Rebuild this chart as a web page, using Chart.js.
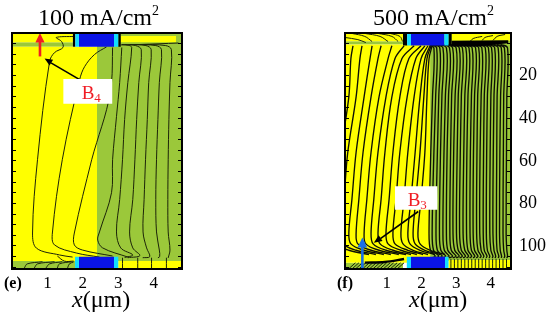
<!doctype html>
<html>

<head>
	<title>Contours</title>
	<script src="https://cdn.jsdelivr.net/npm/chart.js@4.4.1"></script>
	<style>
	* { margin: 0; padding: 0; }
	body { width: 550px; height: 316px; background: #fff; overflow: hidden; position: relative; }
	canvas { position: absolute; top: 0; filter: blur(0.3px); }
	#canvas_e { left: 0; }
	#canvas_f { left: 330px; }
	</style>
</head>

<body>
	<canvas id="canvas_e" width="200" height="316"></canvas>
	<canvas id="canvas_f" width="220" height="316"></canvas>

<script type="text/javascript">
	// ===== data, x in um, y as on the right hand axis =====
	var xTickValues = [1, 2, 3, 4];
	var yTickValues = [20, 40, 60, 80, 100];

	// blocks are [x0, x1, y0, y1]
	var eGreen = [[2.4,4.8,0,107],[0,1.72,4.4,6.4],[0,1.79,107,110.8]];
	var eYellow = [[0,2.4,6.4,107],[0,1.72,0,4.4],[3.07,4.63,1.4,4.3],[3.0,4.8,107,110.8]];
	var eBlack = [[1.72,1.79,0,6.4],[3.0,3.07,0,6.4]];
	var eCyan = [[1.79,1.89,0,6.4],[2.88,3.0,0,6.4],[1.78,1.89,105,110.8],[2.88,3.0,105,110.8]];
	var eBlue = [[1.89,2.88,0,6.4],[1.89,2.88,105,110.8]];

	var fGreen = [[2.25,4.58,0,107],[-0.2,1.47,3.9,5.4],[-0.2,1.47,107.9,110.8]];
	var fYellow = [[-0.2,2.25,5.4,107.9],[-0.2,1.47,0,3.9],[2.87,4.58,0,3.6],[2.78,4.58,106.6,110.8]];
	var fBlack = [[1.47,1.59,0,5.9],[2.78,2.87,0,5.9]];
	var fCyan = [[1.59,1.7,0,5.9],[2.66,2.78,0,5.9],[1.58,1.7,105,110.8],[2.68,2.78,105,110.8]];
	var fBlue = [[1.7,2.66,0,5.9],[1.7,2.68,105,110.8]];
	var fWedge = [[2.87,3.6],[4.5,3.4],[4.5,4.8],[3.6,6.3],[2.87,6.3],[2.87,3.6]];

	// contours of panel e, [x, y] pairs
	var eContours = [
		[[1.76,1.6],[1.25,2.1],[1.40,4],[1.44,6.8],[1.2,9.2],[1.06,13.4],[0.72,59.5],[0.58,93.9],[0.69,101],[1.34,104.2],[1.71,105.2]],
		[[2.67,6.5],[2.33,10.1],[2.05,15.8],[1.91,21.9],[1.42,59.5],[1.14,93.9],[1.20,99.5],[1.82,103.3],[2.47,105.2]],
		[[2.84,6.8],[2.81,23.3],[2.67,36],[2.39,51.5],[2.25,59.5],[1.76,93.9],[1.76,99.5],[1.99,101.9],[2.84,104.7]],
		[[3.10,6.8],[3.04,23.3],[2.95,39.3],[2.84,59.5],[2.81,75],[2.47,93.4],[2.42,97.2],[2.56,100.9],[3.27,105.2]],
		[[3.1,5.4],[3.3,5.8],[3.38,6.8],[3.27,23.3],[3.18,40.6],[3.12,59.5],[3.04,78.2],[2.95,93.4],[3.07,100.9],[3.41,104.2],[3.18,105.4]],
		[[3.18,5.4],[3.49,5.9],[3.65,7.8],[3.58,23.3],[3.52,40.6],[3.47,59.5],[3.41,78.2],[3.32,93.4],[3.41,100.9],[3.61,104.5],[3.27,105.5]],
		[[3.32,5.4],[3.78,5.9],[3.93,7.8],[3.86,23.3],[3.82,40.6],[3.77,59.5],[3.73,78.2],[3.70,93.4],[3.80,100.9],[3.89,105],[3.69,105.5]],
		[[3.47,5.4],[4.06,5.9],[4.22,7.8],[4.16,23.3],[4.12,40.6],[4.08,59.5],[4.06,78.2],[4.08,93.4],[4.16,101.9],[4.17,105],[4.12,105.5]],
		[[3.60,5.4],[4.34,5.9],[4.50,7.8],[4.46,23.3],[4.43,40.6],[4.41,59.5],[4.40,78.2],[4.41,93.4],[4.46,101.9],[4.41,105.6]],
		[[3.07,5.6],[3.6,5.4],[4.7,4.7]],
		[[1.28,104.7],[1.48,107.1],[1.74,107.1]],
		[[0.35,110.3],[0.43,108.4],[0.86,107.4]],
		[[0.63,110.3],[0.72,108.4],[1.2,107.4]],
		[[0.96,110.3],[1.06,108.4],[1.42,107.4]],
		[[1.28,110.3],[1.34,108.4],[1.68,107.4]],
		[[1.57,110.3],[1.62,108.4],[1.74,107.5]],
		[[3.12,105.5],[3.12,110.8]],
		[[3.55,105.5],[3.55,110.8]],
		[[3.94,105.5],[3.94,110.8]],
		[[4.36,105.5],[4.36,110.8]]
	];

	// contours of panel f, one row per line, x read at the y levels
	var fYellowLevels = [6, 12, 30, 56, 78, 94, 99, 102, 104];
	var fYellowRows = [
		[0.03,-0.03,-0.09,-0.32,-0.43,-0.52,-0.46,-0.09,0.49],
		[0.29,0.23,0.12,-0.12,-0.23,-0.32,-0.26,0.12,0.69],
		[0.58,0.52,0.35,0.12,0,-0.09,-0.03,0.35,0.92],
		[0.84,0.75,0.55,0.32,0.20,0.12,0.17,0.55,1.12],
		[1.15,1.04,0.78,0.55,0.43,0.35,0.40,0.78,1.35],
		[1.50,1.24,0.98,0.75,0.63,0.55,0.61,0.98,1.56],
		[1.79,1.44,1.15,0.95,0.84,0.75,0.81,1.18,1.70],
		[1.99,1.64,1.38,1.18,1.07,0.98,1.04,1.41,1.87],
		[2.10,1.84,1.59,1.38,1.27,1.18,1.24,1.61,2.05],
		[2.19,1.99,1.79,1.61,1.50,1.41,1.47,1.76,2.19],
		[2.25,2.10,1.96,1.82,1.70,1.61,1.67,1.96,2.39],
		[2.28,2.16,2.07,1.96,1.84,1.76,1.82,2.10,2.54],
		[2.31,2.22,2.16,2.10,1.99,1.90,1.96,2.25,2.68]
	];
	var fGreenLevels = [5.3, 7, 30, 56, 94, 102, 104.8, 105.6];
	var fGreenRows = [
		[2.20,2.36,2.32,2.27,2.22,2.26,2.40,2.30],
		[2.25,2.44,2.41,2.36,2.31,2.35,2.50,2.40],
		[2.30,2.53,2.50,2.46,2.42,2.46,2.60,2.50],
		[2.35,2.62,2.59,2.55,2.52,2.56,2.70,2.60],
		[2.42,2.72,2.69,2.65,2.62,2.66,2.80,2.70],
		[2.50,2.81,2.78,2.74,2.72,2.76,2.90,2.80],
		[2.58,2.90,2.87,2.84,2.82,2.86,3.00,2.90],
		[2.68,3.00,2.97,2.93,2.91,2.96,3.09,3.00],
		[2.78,3.09,3.06,3.03,3.01,3.06,3.18,3.10],
		[2.88,3.18,3.15,3.12,3.10,3.15,3.27,3.20],
		[2.98,3.28,3.25,3.22,3.20,3.25,3.36,3.30],
		[3.08,3.37,3.34,3.31,3.30,3.34,3.45,3.39],
		[3.18,3.46,3.44,3.41,3.40,3.44,3.54,3.49],
		[3.28,3.56,3.53,3.50,3.49,3.53,3.63,3.58],
		[3.38,3.65,3.62,3.60,3.59,3.63,3.72,3.68],
		[3.48,3.74,3.72,3.69,3.68,3.72,3.80,3.77],
		[3.58,3.84,3.81,3.79,3.78,3.81,3.89,3.86],
		[3.68,3.93,3.90,3.88,3.87,3.90,3.97,3.95],
		[3.78,4.02,4.00,3.98,3.97,4.00,4.06,4.04],
		[3.88,4.11,4.09,4.07,4.06,4.09,4.14,4.12],
		[3.98,4.21,4.18,4.17,4.16,4.18,4.23,4.21],
		[4.08,4.30,4.28,4.26,4.25,4.27,4.31,4.30],
		[4.18,4.39,4.37,4.36,4.35,4.37,4.40,4.38],
		[4.28,4.48,4.46,4.45,4.44,4.46,4.48,4.46]
	];
	var fStripContours = [
		[[0,0.2],[0.37,1.6],[0.58,4]],
		[[0.37,0.2],[0.81,1.6],[1.04,4]],
		[[0.75,0.2],[1.15,1.6],[1.33,4]],
		[[1.1,0.2],[1.38,1.6],[1.46,4]],
		[[-0.2,2.1],[0.17,3.1],[0.4,4.5]],
		[[3.4,4],[3.49,2.6],[3.75,1.6]],
		[[3.75,3.5],[3.83,2.1],[4.06,1.2]],
		[[4.06,3.5],[4.18,1.6],[4.41,0.7]]
	];
	var fBottomRightStubs = [2.85,2.95,3.05,3.15,3.25,3.35,3.45,3.55,3.65,3.75,3.85,3.95,4.05,4.15,4.25,4.35,4.45];
	var fBottomLeftStubs = [-0.1,0,0.1,0.2,0.3,0.4,0.5,0.6,0.7,0.8,0.9,1.0,1.1,1.2,1.3];
	var fBottomBand = [[0.37,107.8],[0.95,107.5],[1.5,106.1]];

	// arrows, shaft then head
	var eRedShaft = [[0.79,11],[0.79,4]];
	var eRedHead = [[0.79,0],[0.92,4.5],[0.66,4.5],[0.79,0]];
	var ePointerShaft = [[1.91,21.9],[1.1,14]];
	var ePointerHead = [[0.92,12],[1.06,15.3],[1.16,12.6],[0.92,12]];
	var eLabelBox = [[1.45,21.6],[2.83,21.6],[2.83,33.2],[1.45,33.2],[1.45,21.6]];

	var fBlueShaft = [[0.3,110.8],[0.3,100]];
	var fBlueHead = [[0.3,96],[0.44,100.7],[0.16,100.7],[0.3,96]];
	var fPointerShaft = [[1.91,83.8],[0.82,96.5]];
	var fPointerHead = [[0.63,98.5],[0.88,97.7],[0.77,95],[0.63,98.5]];
	var fLabelBox = [[1.24,72],[2.46,72],[2.46,83],[1.24,83],[1.24,72]];

	// ===== helpers =====
	var Y_MAX = 110.8;
	var SERIF = '"Liberation Serif"';

	function toPoints(pairs) {
		return pairs.map(function(p) { return { x: p[0], y: p[1] }; });
	}

	function rowToPoints(row, levels) {
		return row.map(function(x, i) { return { x: x, y: levels[i] }; });
	}

	function shape(pairs, color) {
		return {
			data: toPoints(pairs), showLine: true, fill: 'shape', backgroundColor: color,
			borderWidth: 0, pointRadius: 0, tension: 0
		};
	}

	function blocks(list, color) {
		return list.map(function(b) {
			return shape([[b[0],b[2]],[b[1],b[2]],[b[1],b[3]],[b[0],b[3]],[b[0],b[2]]], color);
		});
	}

	function line(points, color, width, tension) {
		return {
			data: points, showLine: true, fill: false, borderColor: color,
			borderWidth: width, pointRadius: 0, tension: tension
		};
	}

	function contour(points) {
		return line(points, '#1c2408', 1, 0.35);
	}

	// panel f lines read heavier than panel e
	function heavyContour(points) {
		return line(points, '#0c1004', 1.35, 0.35);
	}

	// chart.js paints the first dataset last, so flip the list
	function bottomUp(list) {
		return list.slice().reverse();
	}

	var panelText = {
		id: 'panelText',
		afterDraw: function(chart, args, opts) {
			var ctx = chart.ctx;
			ctx.save();
			ctx.textBaseline = 'alphabetic';
			ctx.textAlign = 'left';
			var cursor = 0;
			opts.runs.forEach(function(r) {
				ctx.font = r.font;
				ctx.fillStyle = r.color || '#000';
				var x = r.x !== undefined ? r.x : cursor;
				ctx.fillText(r.t, x, r.y);
				cursor = x + ctx.measureText(r.t).width;
			});
			ctx.restore();
		}
	};

	function hiddenEdge(pos, min, max) {
		return {
			type: 'linear', position: pos, min: min, max: max,
			ticks: { display: false },
			grid: { drawOnChartArea: false, drawTicks: false },
			border: { display: true, color: '#000', width: 2, z: 2 }
		};
	}

	function makeConfig(datasets, box, xMin, xMax, showYLabels, runs) {
		var xTop = hiddenEdge('top', xMin, xMax);
		xTop.afterFit = function(s) { s.height = box.top; };

		function yAxis(pos, width, labels) {
			return {
				type: 'linear', position: pos, min: 0, max: Y_MAX, reverse: true,
				afterFit: function(s) { s.width = width; },
				grid: { drawOnChartArea: false, drawTicks: true, tickLength: -4, tickColor: '#000', tickWidth: 1, z: 1 },
				border: { display: true, color: '#000', width: 2, z: 2 },
				ticks: {
					display: labels, stepSize: 5, includeBounds: false, autoSkip: false, maxRotation: 0,
					padding: 12, color: '#000', font: { family: SERIF, size: 18 },
					callback: function(v) { return yTickValues.indexOf(v) >= 0 ? String(v) : ''; }
				}
			};
		}

		return {
			type: 'scatter',
			data: { datasets: datasets },
			options: {
				responsive: false, animation: false,
				layout: { padding: 0 },
				scales: {
					x: {
						type: 'linear', position: 'bottom', min: xMin, max: xMax,
						afterFit: function(s) { s.height = box.bottom; },
						grid: { drawOnChartArea: false, drawTicks: false },
						border: { display: true, color: '#000', width: 2, z: 2 },
						ticks: {
							stepSize: 1, includeBounds: false, autoSkip: false, maxRotation: 0,
							padding: 4, color: '#000', font: { family: SERIF, size: 17 },
							callback: function(v) { return xTickValues.indexOf(v) >= 0 ? String(v) : ''; }
						}
					},
					xTop: xTop,
					y: yAxis('left', box.left, false),
					yRight: yAxis('right', box.right, showYLabels)
				},
				plugins: {
					legend: { display: false },
					tooltip: { enabled: false },
					panelText: { runs: runs }
				}
			},
			plugins: [panelText]
		};
	}

	var colors = { green: '#9bc83a', yellow: '#ffff00', black: '#000', cyan: '#12dcff', blue: '#0a14e6' };

	// ===== panel e =====
	var eDatasets = [].concat(
		blocks(eGreen, colors.green),
		blocks(eYellow, colors.yellow),
		eContours.map(function(c) { return contour(toPoints(c)); }),
		blocks(eBlack, colors.black),
		blocks(eBlue, colors.blue),
		blocks(eCyan, colors.cyan),
		[line(toPoints(ePointerShaft), '#000', 1.6, 0), shape(ePointerHead, '#000'), shape(eLabelBox, '#fff')],
		[line(toPoints(eRedShaft), '#f01c24', 2.6, 0), shape(eRedHead, '#f01c24')]
	);

	var eChart = new Chart(document.getElementById('canvas_e'), makeConfig(
		bottomUp(eDatasets),
		{ top: 33, bottom: 47, left: 12, right: 18 }, 0, 4.8, false,
		[
			{ t: '100 mA/cm', x: 38, y: 25, font: '24px ' + SERIF },
			{ t: '2', y: 15, font: '14px ' + SERIF },
			{ t: 'B', x: 81.7, y: 99, font: '19px ' + SERIF, color: '#f01c24' },
			{ t: '4', y: 102, font: '13px ' + SERIF, color: '#f01c24' },
			{ t: '(e)', x: 4, y: 288, font: 'bold 16px ' + SERIF },
			{ t: 'x', x: 72, y: 307, font: 'italic 24px ' + SERIF },
			{ t: '(\u03bcm)', y: 307, font: '24px ' + SERIF }
		]
	));

	// ===== panel f =====
	var fContourSets = [].concat(
		fYellowRows.map(function(r) { return heavyContour(rowToPoints(r, fYellowLevels)); }),
		fGreenRows.map(function(r) { return heavyContour(rowToPoints(r, fGreenLevels)); }),
		fStripContours.map(function(c) { return contour(toPoints(c)); }),
		fBottomRightStubs.map(function(x) { return contour([{ x: x, y: 106 }, { x: x, y: Y_MAX }]); }),
		fBottomLeftStubs.map(function(x) { return contour([{ x: x, y: Y_MAX }, { x: x + 0.2, y: 107.9 }]); })
	);

	var fDatasets = [].concat(
		blocks(fGreen, colors.green),
		blocks(fYellow, colors.yellow),
		fContourSets,
		[shape(fWedge, colors.black), line(toPoints(fBottomBand), '#000', 2.4, 0.35)],
		blocks(fBlack, colors.black),
		blocks(fBlue, colors.blue),
		blocks(fCyan, colors.cyan),
		[line(toPoints(fPointerShaft), '#000', 1.6, 0), shape(fPointerHead, '#000'), shape(fLabelBox, '#fff')],
		[line(toPoints(fBlueShaft), '#1a6ee6', 2.6, 0), shape(fBlueHead, '#1a6ee6')]
	);

	var fChart = new Chart(document.getElementById('canvas_f'), makeConfig(
		bottomUp(fDatasets),
		{ top: 33, bottom: 47, left: 15, right: 39 }, -0.2, 4.58, true,
		[
			{ t: '500 mA/cm', x: 43, y: 25, font: '24px ' + SERIF },
			{ t: '2', y: 15, font: '14px ' + SERIF },
			{ t: 'B', x: 77.7, y: 205.7, font: '19px ' + SERIF, color: '#f01c24' },
			{ t: '3', y: 209, font: '13px ' + SERIF, color: '#f01c24' },
			{ t: '(f)', x: 7, y: 288, font: 'bold 16px ' + SERIF },
			{ t: 'x', x: 79, y: 307, font: 'italic 24px ' + SERIF },
			{ t: '(\u03bcm)', y: 307, font: '24px ' + SERIF }
		]
	));
</script>
</body>

</html>
